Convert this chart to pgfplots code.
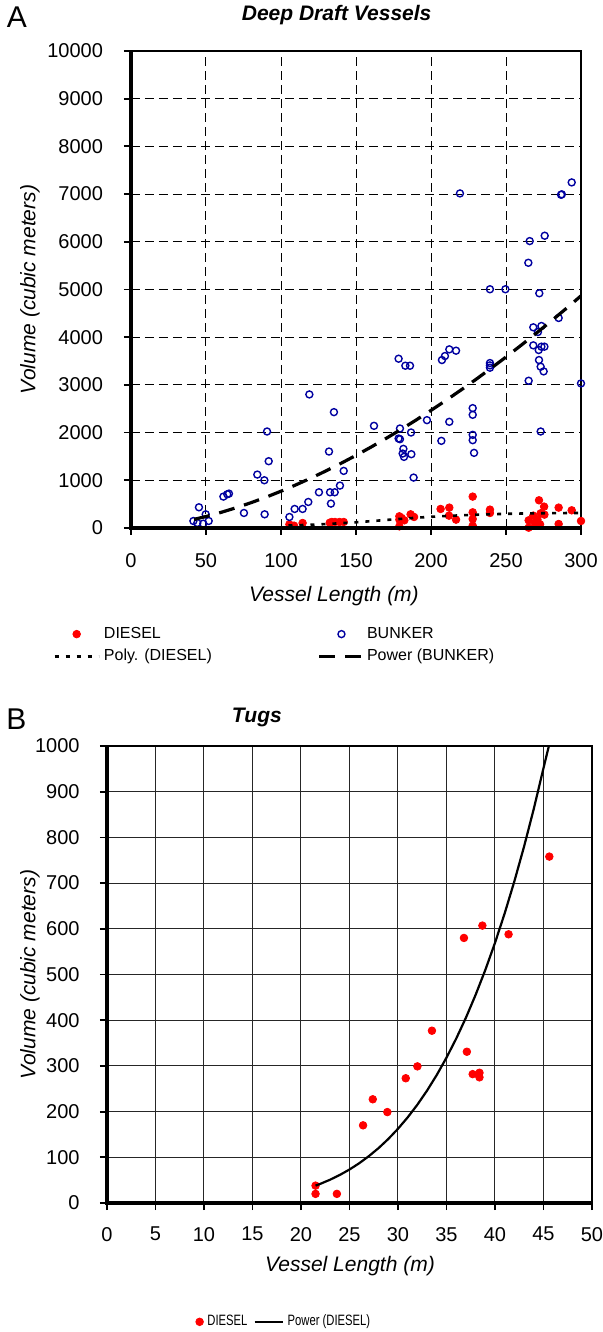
\documentclass[border=0pt]{standalone}
\usepackage{fontspec}
\setmainfont{Liberation Sans}
\usepackage{pgfplots}
\pgfplotsset{compat=1.18}
\definecolor{xlred}{RGB}{255,0,0}
\definecolor{xlblue}{RGB}{0,0,160}

\pgfplotsset{
  chartbase/.style={
    scale only axis,
    clip mode=individual,
    scaled ticks=false,
    tick align=outside,
    major tick length=3.5pt,
    xtick pos=bottom, ytick pos=left,
    tick style={black,line width=0.9pt},
    axis line style={line width=0.9pt},
    tick label style={font=\fontsize{10}{12}\selectfont},
    /pgf/number format/assume math mode=true,
    /pgf/number format/1000 sep={},
    label style={font=\fontsize{10.5}{12.6}\selectfont\itshape},
    title style={font=\fontsize{10.5}{12.6}\selectfont\bfseries\itshape, yshift=-6pt},
    legend cell align=left,
  },
  legmark/.style={legend image code/.code={\draw[mark repeat=2,mark phase=2,##1] plot coordinates {(0pt,0pt) (#1/2,0pt) (#1,0pt)};}},
  legline/.style={legend image code/.code={\draw[##1] (0pt,0pt) -- (#1,0pt);}},
}

\begin{document}
\begin{tikzpicture}
% ---------------- A: deep draft vessels
\begin{axis}[chartbase,
  at={(0pt,0pt)}, anchor=south west,
  width=225pt, height=238.5pt,
  xmin=0, xmax=300, ymin=0, ymax=10000,
  xtick={0,50,...,300}, ytick={0,1000,...,10000},
  grid=major,
  grid style={black, line width=0.5pt, dash pattern=on 4.5pt off 2.5pt},
  xticklabel style={yshift=-5.5pt}, yticklabel style={xshift=-7pt},
  xlabel={Vessel Length (m)}, ylabel={Volume (cubic meters)},
  xlabel style={at={(axis description cs:0.451,-0.1426)}, anchor=center},
  ylabel style={at={(axis description cs:-0.2244,0.5)}, anchor=center},
  title={Deep Draft Vessels},
  title style={at={(axis description cs:0.457,1.0755)}, anchor=center},
  legend columns=2,
  legend style={draw=none, fill=none, at={(axis description cs:-0.1867,-0.19)},
    anchor=north west, font=\fontsize{8}{9.6}\selectfont,
    /tikz/every even column/.append style={column sep=51pt}},
]
% DIESEL
\addplot[only marks, mark=*, mark size=1.9pt, color=xlred, legmark=22pt]
coordinates {
 (105.6,77) (108.7,49) (114.4,105) (132.5,110) (133.8,126) (136.0,126) (139.0,126) (141.8,126)
 (178.9,245) (178.9,175) (178.9,35) (180.4,210) (182.2,161) (186.4,287) (188.7,231)
 (206.4,399) (212.2,427) (212.0,259) (216.7,175)
 (227.8,658) (227.8,329) (227.8,189) (227.8,49) (239.3,385) (239.3,315)
 (265.1,161) (265.1,7) (268.2,259) (269.3,105) (271.0,175) (272.0,581) (272.7,77)
 (273.1,308) (275.4,448) (275.6,280) (285.1,427) (285.1,84) (293.8,371) (300,147)
};
\addlegendentry{DIESEL}
% BUNKER
\addplot[only marks, mark=o, mark size=1.75pt, color=xlblue, mark options={line width=0.7pt}, legmark=22pt]
coordinates {
 (41.6,147) (45.3,434) (44.2,105) (48.2,91) (49.8,287) (51.8,147)
 (61.6,658) (64.2,707) (65.3,721) (75.3,315) (84.2,1120) (88.9,1001) (89.1,287)
 (90.7,2023) (91.8,1400) (105.6,231) (109.1,399) (114.4,399) (118.2,546) (118.9,2800)
 (125.3,749) (132.7,749) (135.8,749) (133.3,511) (139.3,889) (141.8,1197) (132.0,1603)
 (135.3,2429) (162.0,2142) (178.4,3549) (182.9,3402) (186.0,3402) (179.3,2086)
 (178.4,1876) (179.3,1862) (186.7,2002) (181.6,1659) (181.1,1561) (182.0,1491)
 (186.9,1547) (188.4,1057) (197.3,2261) (206.9,1827) (212.2,2226) (207.3,3521)
 (209.3,3605) (212.2,3745) (216.7,3717) (227.8,2513) (227.8,2373) (227.8,1953)
 (227.8,1841) (228.7,1575) (239.3,3458) (239.3,3409) (239.3,3360) (239.3,5005)
 (249.6,5005) (265.1,3087) (268.2,4207) (268.2,3829) (271.3,4109) (273.6,4235)
 (271.8,3731) (273.6,3801) (275.6,3801) (272.0,3521) (273.1,3381) (275.1,3283)
 (273.1,2023) (272.2,4921) (285.1,4403) (300,3031)
 (219.3,7014) (286.7,6986) (287.2,6995) (293.8,7245) (265.8,6015) (275.8,6127) (264.9,5560)
};
\addlegendentry{BUNKER}
% Poly. (DIESEL)
\addplot[black, line width=1.3pt, dash pattern=on 2pt off 3.5pt, smooth, legline=22pt]
coordinates {
 (105,52) (125,75) (150,120) (175,180) (200,235) (225,272) (250,297) (275,310) (300,315)
};
\addlegendentry{Poly. (DIESEL)}
% Power (BUNKER)
\addplot[black, line width=1.6pt, dash pattern=on 8pt off 5pt, legline=21pt]
coordinates {
 (42,180) (50,241) (60,327) (70,424) (80,530) (90,646) (100,771) (110,905) (120,1047)
 (130,1197) (140,1356) (150,1522) (160,1696) (170,1877) (180,2066) (190,2262) (200,2466)
 (210,2676) (220,2893) (230,3116) (240,3348) (250,3585) (260,3829) (270,4079) (280,4335)
 (290,4598) (300,4867)
};
\addlegendentry{Power (BUNKER)}
\draw[line width=1.6pt] (rel axis cs:0,1) -- (rel axis cs:0,0) -- (rel axis cs:1,0);
\end{axis}

% ---------------- B: tugs
\begin{axis}[chartbase,
  at={(-12pt,-337.5pt)}, anchor=south west,
  width=242.5pt, height=228.5pt,
  xmin=0, xmax=50, ymin=0, ymax=1000,
  xtick={0,5,...,50}, ytick={0,100,...,1000},
  grid=major,
  grid style={black!85, line width=0.5pt},
  xticklabel style={yshift=-5pt}, yticklabel style={xshift=-6.7pt},
  xlabel={Vessel Length (m)}, ylabel={Volume (cubic meters)},
  xlabel style={at={(axis description cs:0.501,-0.138)}, anchor=center},
  ylabel style={at={(axis description cs:-0.159,0.5)}, anchor=center},
  title={Tugs},
  title style={at={(axis description cs:0.309,1.0635)}, anchor=center},
  legend columns=2,
  legend style={draw=none, fill=none, at={(axis description cs:0.367,-0.26)},
    anchor=center, font=\fontsize{7.5}{9}\selectfont,
    /tikz/every even column/.append style={column sep=1pt}},
]
\addplot[only marks, mark=*, mark size=1.9pt, color=xlred, legmark=6pt]
coordinates {
 (21.5,38) (21.5,20) (23.7,20) (26.4,170) (27.4,227) (28.9,199) (30.8,273) (32.0,299)
 (33.5,377) (36.8,580) (37.1,331) (37.7,282) (38.4,285) (38.4,275) (38.7,607)
 (41.4,588) (45.6,758)
};
\addlegendentry{\scalebox{0.75}[1]{DIESEL}}
\addplot[black, line width=1.1pt, legline=14pt]
coordinates {
 (21.5,38) (22,42) (23,51) (24,61.4) (25,73.3) (26,87) (27,102.6) (28,120.2) (29,140.1)
 (30,162.5) (31,187.4) (32,215.2) (33,246.1) (34,280.3) (35,318.1) (36,359.7) (37,405.3)
 (38,455.4) (39,509.8) (40,569.2) (41,633.9) (42,704.1) (43,780.2) (44,862.5) (45,951.6)
 (45.6,1004)
};
\addlegendentry{\scalebox{0.75}[1]{Power (DIESEL)}}
\draw[line width=1.6pt] (rel axis cs:0,1) -- (rel axis cs:0,0) -- (rel axis cs:1,0);
\end{axis}

\node[font=\fontsize{15}{18}\selectfont] at (-57pt,255.5pt) {A};
\node[font=\fontsize{15}{18}\selectfont] at (-57.25pt,-95.5pt) {B};

\pgfresetboundingbox
\path[use as bounding box] (-65.5pt,-402pt) rectangle (235.5pt,264pt);
\end{tikzpicture}
\end{document}
